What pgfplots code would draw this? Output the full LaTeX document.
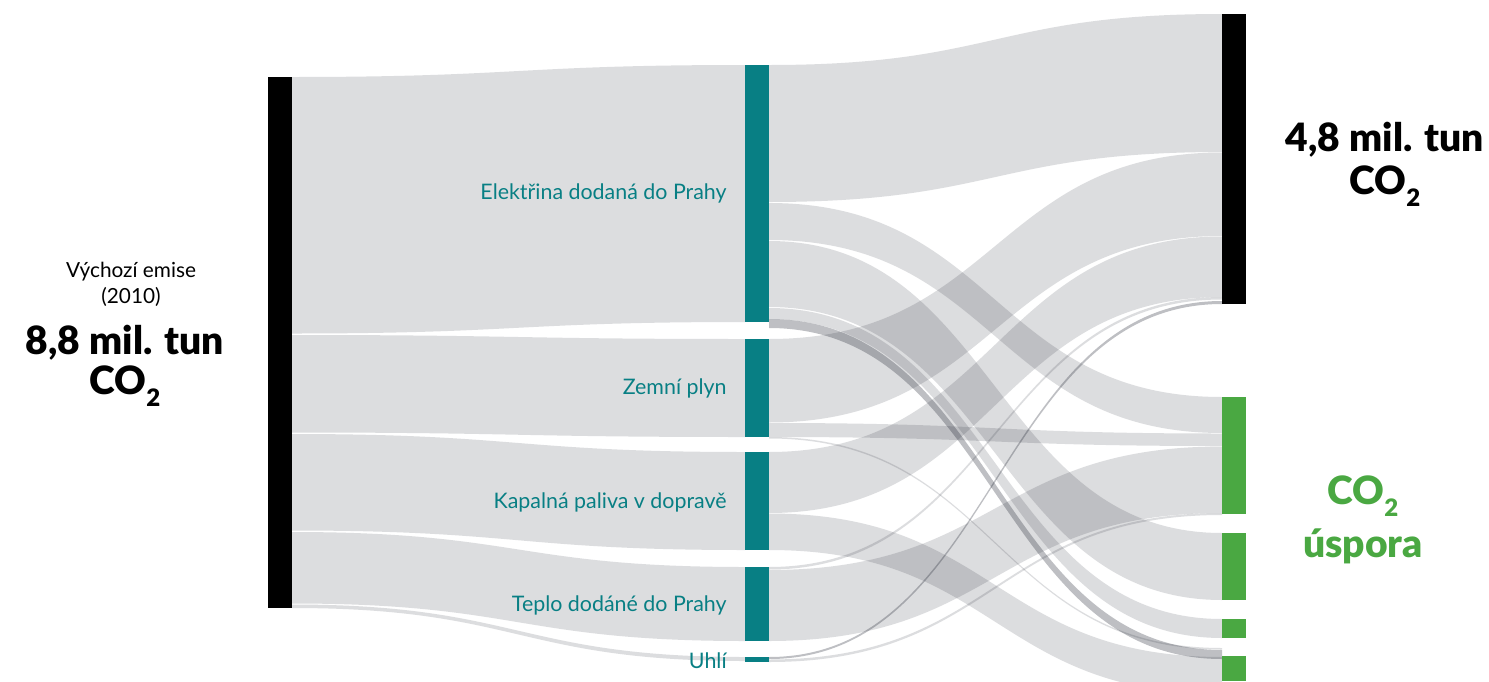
\documentclass[border=0pt]{standalone}
\usepackage{fontspec}
\setmainfont{Lato}
\newfontfamily\heavy{Lato Black}
\usepackage{pgfplots}
\pgfplotsset{compat=1.18}

\definecolor{tealbar}{RGB}{8,127,132}
\definecolor{grnbar}{RGB}{74,168,66}
\definecolor{flowc}{RGB}{15,20,34}

% one sankey link: style, x0, xmid, x1, y0 top, y0 bottom, y1 top, y1 bottom
\newcommand{\flow}[8]{%
  \fill[#1] (axis cs:#2,#5) .. controls (axis cs:#3,#5) and (axis cs:#3,#7) .. (axis cs:#4,#7)
    -- (axis cs:#4,#8) .. controls (axis cs:#3,#8) and (axis cs:#3,#6) .. (axis cs:#2,#6) -- cycle;}
\newcommand{\cotwo}{CO\raisebox{-0.32em}{\fontsize{12}{12}\selectfont 2}}

\tikzset{lf/.style={fill=flowc, fill opacity=0.145},
         dk/.style={fill=flowc, fill opacity=0.27}}

\begin{document}
\begin{tikzpicture}
\begin{axis}[
    x=0.5pt, y=0.5pt, y dir=reverse,
    xmin=0, xmax=1489, ymin=0, ymax=681,
    hide axis, clip=true,
]
% emissions 2010 -> sectors
\flow{lf}{292}{518.5}{745}{77}{333.5}{65}{322}
\flow{lf}{292}{518.5}{745}{335}{432.5}{339}{437}
\flow{lf}{292}{518.5}{745}{434}{530.5}{452}{550}
\flow{lf}{292}{518.5}{745}{532}{603.5}{567}{641}
\flow{lf}{292}{518.5}{745}{604.5}{608}{657}{661}

% sectors -> remaining / savings
\flow{lf}{769}{995.5}{1222}{65}{202}{14}{152}
\flow{lf}{769}{995.5}{1222}{203}{240}{397}{433}
\flow{lf}{769}{995.5}{1222}{241}{307}{533}{600}
\flow{lf}{769}{995.5}{1222}{308}{319}{619}{638}
\flow{dk}{769}{995.5}{1222}{319}{328}{650}{659}
\flow{lf}{769}{995.5}{1222}{339}{422.5}{152.5}{236}
\flow{lf}{769}{995.5}{1222}{423}{437}{433.5}{446}
\flow{lf}{769}{995.5}{1222}{437}{438.5}{648}{649.5}
\flow{lf}{769}{995.5}{1222}{452}{513}{236.5}{297}
\flow{lf}{769}{995.5}{1222}{513.5}{550}{657}{694}
\flow{lf}{769}{995.5}{1222}{567}{569.5}{297}{299.5}
\flow{lf}{769}{995.5}{1222}{570}{641}{446.5}{513}
\flow{dk}{769}{995.5}{1222}{657}{659}{301}{304}
\flow{lf}{769}{995.5}{1222}{659.5}{662}{513}{515}

% nodes
\addplot[fill=black, draw=none] coordinates {(268,77) (292,77) (292,608) (268,608)} -- cycle;
\addplot[fill=tealbar, draw=none] coordinates {(745,65) (769,65) (769,322) (745,322)} -- cycle;
\addplot[fill=tealbar, draw=none] coordinates {(745,339) (769,339) (769,437) (745,437)} -- cycle;
\addplot[fill=tealbar, draw=none] coordinates {(745,452) (769,452) (769,550) (745,550)} -- cycle;
\addplot[fill=tealbar, draw=none] coordinates {(745,567) (769,567) (769,641) (745,641)} -- cycle;
\addplot[fill=tealbar, draw=none] coordinates {(745,657) (769,657) (769,662) (745,662)} -- cycle;
\addplot[fill=black, draw=none] coordinates {(1222,14) (1246,14) (1246,304) (1222,304)} -- cycle;
\addplot[fill=grnbar, draw=none] coordinates {(1222,397) (1246,397) (1246,514) (1222,514)} -- cycle;
\addplot[fill=grnbar, draw=none] coordinates {(1222,533) (1246,533) (1246,600) (1222,600)} -- cycle;
\addplot[fill=grnbar, draw=none] coordinates {(1222,619) (1246,619) (1246,638) (1222,638)} -- cycle;
\addplot[fill=grnbar, draw=none] coordinates {(1222,656) (1246,656) (1246,681) (1222,681)} -- cycle;

% sector labels
\begin{scope}[every node/.style={anchor=east, inner sep=0pt, text=tealbar, font=\fontsize{10.7}{12}\selectfont}]
\node at (axis cs:727,193) {Elektřina dodaná do Prahy};
\node at (axis cs:727,388) {Zemní plyn};
\node at (axis cs:727,502) {Kapalná paliva v dopravě};
\node at (axis cs:727,605) {Teplo dodáné do Prahy};
\node at (axis cs:727,661) {Uhlí};
\end{scope}

% totals
\begin{scope}[every node/.style={inner sep=0pt, font=\heavy\fontsize{19.5}{22}\selectfont}]
\node[font=\fontsize{10.4}{12}\selectfont] at (axis cs:131,272) {Výchozí emise};
\node[font=\fontsize{10.4}{12}\selectfont] at (axis cs:131,297) {(2010)};
\node at (axis cs:125,343) {8,8 mil. tun};
\node at (axis cs:125,386) {\cotwo};
\node at (axis cs:1385,140) {4,8 mil. tun};
\node at (axis cs:1385,186) {\cotwo};
\node[text=grnbar] at (axis cs:1363,496) {\cotwo};
\node[text=grnbar] at (axis cs:1363,546) {úspora};
\end{scope}
\end{axis}
\pgfresetboundingbox
\path[use as bounding box] (current axis.south west) rectangle (current axis.north east);
\end{tikzpicture}
\end{document}
